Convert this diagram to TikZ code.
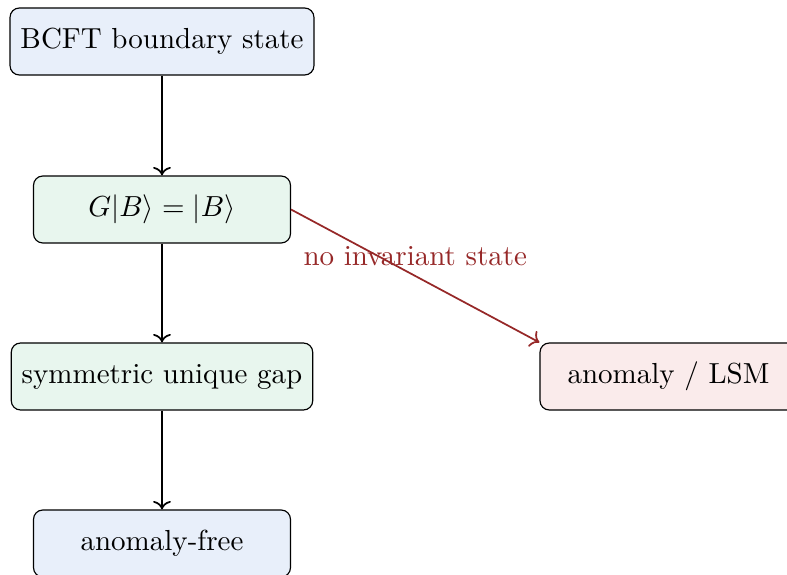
\documentclass[tikz,border=0pt]{standalone}
\usetikzlibrary{arrows.meta}
\definecolor{boxblue}{RGB}{232,239,250}
\definecolor{boxgreen}{RGB}{232,246,238}
\definecolor{boxred}{RGB}{250,235,235}
\definecolor{warnred}{RGB}{150,40,40}
\tikzset{
  stagebox/.style={draw=black, line width=0.4pt, rounded corners=3.2pt,
    minimum width=88.6pt, minimum height=23.1pt, inner sep=3.6pt, align=center},
  flow/.style={semithick, ->},
  failflow/.style={semithick, ->, draw=warnred},
}
\begin{document}
\begin{tikzpicture}[x=0.3448pt, y=-0.3448pt]
  \useasboundingbox (0,0) rectangle (787,575);
  \clip (0,0) rectangle (787,575);
  \node[stagebox, fill=boxblue]  (bcft) at (162,41.5)  {BCFT boundary state};
  \node[stagebox, fill=boxgreen] (inv)  at (162,209.5) {$G|B\rangle = |B\rangle$};
  \node[stagebox, fill=boxgreen] (gap)  at (162,376.5) {symmetric unique gap};
  \node[stagebox, fill=boxblue]  (free) at (162,543.5) {anomaly-free};
  \node[stagebox, fill=boxred]   (lsm)  at (668.5,376.5) {anomaly / LSM};
  \draw[flow] (bcft) -- (inv);
  \draw[flow] (inv) -- (gap);
  \draw[flow] (gap) -- (free);
  \draw[failflow] (inv.east) -- node[midway, above, text=warnred] {no invariant state} (lsm.north west);
\end{tikzpicture}
\end{document}
